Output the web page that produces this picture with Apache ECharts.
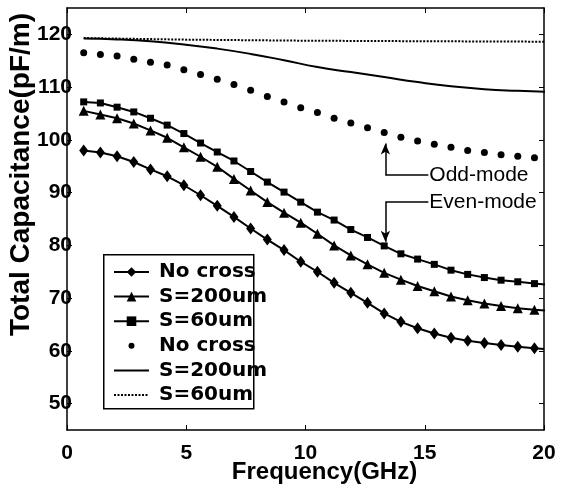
<!DOCTYPE html>
<html>
<head>
<meta charset="utf-8">
<title>Total Capacitance vs Frequency</title>
<script src="https://cdn.jsdelivr.net/npm/echarts@6/dist/echarts.min.js"></script>
<style>
  html, body { margin: 0; padding: 0; background: #fff; }
  #chart { width: 564px; height: 484px; }
</style>
</head>
<body>
<div id="chart"></div>
<script>
// sample frequencies (GHz) of the marked curves
const freqs = [0.7, 1.4, 2.1, 2.8, 3.5, 4.2, 4.9, 5.6, 6.3, 7.0, 7.7, 8.4, 9.1, 9.8,
  10.5, 11.2, 11.9, 12.6, 13.3, 14.0, 14.7, 15.4, 16.1, 16.8, 17.5, 18.2, 18.9, 19.6];

// even-mode, pF/m
const evenNoCross = [98.0, 97.6, 96.9, 95.8, 94.4, 93.1, 91.4, 89.5, 87.5, 85.4, 83.2, 81.1, 79.1, 76.9,
  75.0, 72.9, 71.0, 69.1, 67.1, 65.5, 64.3, 63.3, 62.5, 61.9, 61.5, 61.1, 60.8, 60.5];
const evenS200 = [105.5, 104.8, 104.1, 103.1, 101.8, 100.4, 98.6, 96.8, 94.9, 92.6, 90.4, 88.2, 86.2, 84.3,
  82.2, 80.0, 78.1, 76.4, 74.8, 73.5, 72.3, 71.3, 70.3, 69.6, 69.0, 68.5, 68.1, 67.8];
const evenS60 = [107.2, 107.0, 106.2, 105.3, 104.1, 102.8, 101.2, 99.4, 97.7, 96.0, 94.0, 92.0, 90.1, 88.2,
  86.3, 84.8, 83.0, 81.5, 79.9, 78.4, 77.4, 76.4, 75.3, 74.5, 73.9, 73.4, 73.1, 72.75];

// odd-mode, pF/m
const oddNoCross = [116.5, 116.2, 115.9, 115.3, 114.7, 114.2, 113.3, 112.4, 111.5, 110.5, 109.4, 108.2, 107.2, 106.1,
  105.2, 104.1, 103.2, 102.3, 101.4, 100.5, 99.8, 99.15, 98.6, 98.0, 97.6, 97.2, 96.9, 96.6];
const oddS200Freqs = [0.7, 2.1, 3.5, 4.9, 6.3, 7.7, 9.1, 10.5, 11.9, 13.3, 14.7, 16.1, 17.5, 18.9, 20.75];
const oddS200 = [119.2, 119.05, 118.7, 118.1, 117.3, 116.3, 115.1, 113.8, 112.85, 111.9, 110.95, 110.15, 109.6, 109.3, 109.0];
const oddS60Freqs = [0.7, 5.0, 10.0, 15.0, 20.75];
const oddS60 = [119.3, 119.0, 118.8, 118.7, 118.6];

// the even-mode lines run on a little past the frame
const evenTailFreqs = [20.0, 20.75, 20.75];
const evenTailValues = [60.35, 67.4, 72.3];

const seriesNames = ["evenNoCross", "evenS200", "evenS60", "oddNoCross", "oddS200", "oddS60"];
const legendLabels = ["No cross", "S=200um", "S=60um", "No cross", "S=200um", "S=60um"];

const xTicks = [0, 5, 10, 15, 20];
const yTicks = [50, 60, 70, 80, 90, 100, 110, 120];

// arrows: [x, elbow y, tip y, label end x]
const annoLabels = ["Odd-mode", "Even-mode"];
const annoArrows = [
  [13.35, 93.3, 99.3, 15.15],
  [13.35, 88.2, 80.7, 15.15],
];

const FONT = "'Liberation Sans', Arial, sans-serif";
// small dot for the legend; the bare moves only widen the box it is fitted into
const DOT_ICON = "path://M0,0M12,12M9,6A3,3,0,1,1,3,6A3,3,0,1,1,9,6Z";

function pairs(xs, ys) {
  return xs.map((x, i) => [x, ys[i]]);
}

function withTail(xs, ys, k) {
  return pairs(xs, ys).concat([{ value: [evenTailFreqs[k], evenTailValues[k]], symbol: "none" }]);
}

function markerLine(name, data, symbol, size) {
  return {
    name,
    type: "line",
    data,
    symbol,
    symbolSize: size,
    clip: false,
    itemStyle: { color: "#000" },
    lineStyle: { color: "#000", width: 2 },
    z: 3,
  };
}

function annotationLines() {
  const data = [];
  annoArrows.forEach((a, i) => {
    data.push([
      { coord: [a[0], a[1]], symbol: "none" },
      { coord: [a[0], a[2]], symbol: "arrow" },
    ]);
    data.push([
      {
        coord: [a[0], a[1]],
        symbol: "none",
        label: {
          show: true,
          position: "end",
          distance: 1,
          formatter: annoLabels[i],
          color: "#000",
          fontFamily: FONT,
          fontSize: 21,
        },
      },
      { coord: [a[3], a[1]], symbol: "none" },
    ]);
  });
  return data;
}

function legendItems() {
  return seriesNames.map((name, i) => {
    if (i === 3) return { name, icon: DOT_ICON };
    if (i > 3) return { name, itemStyle: { opacity: 0 } };
    return { name };
  });
}

const chart = echarts.init(document.getElementById("chart"), null, { renderer: "canvas" });

const axisCommon = {
  axisLine: { onZero: false, lineStyle: { color: "#000", width: 1.5 } },
  axisTick: { inside: true, length: 5, lineStyle: { color: "#000", width: 1 } },
  splitLine: { show: false },
};

chart.setOption({
  animation: false,
  backgroundColor: "#fff",
  grid: { left: 67, right: 20, top: 8, bottom: 54, containLabel: false, outerBoundsMode: "none" },
  xAxis: [
    {
      ...axisCommon,
      type: "value",
      min: 0,
      max: 20,
      interval: 5,
      axisLabel: {
        color: "#000",
        fontFamily: FONT,
        fontWeight: "bold",
        fontSize: 21,
        margin: 13,
        customValues: xTicks,
      },
      name: "Frequency(GHz)",
      nameLocation: "middle",
      nameMoveOverlap: false,
      nameGap: 30,
      nameTextStyle: {
        color: "#000",
        fontFamily: FONT,
        fontWeight: "bold",
        fontSize: 24,
        padding: [0, 0, 0, 38],
      },
    },
    {
      ...axisCommon,
      type: "value",
      position: "top",
      min: 0,
      max: 20,
      interval: 5,
      axisLabel: { show: false },
    },
  ],
  yAxis: [
    {
      ...axisCommon,
      type: "value",
      min: 45,
      max: 125,
      axisTick: { ...axisCommon.axisTick, customValues: yTicks },
      axisLabel: {
        color: "#000",
        fontFamily: FONT,
        fontWeight: "bold",
        fontSize: 21,
        margin: -5,
        customValues: yTicks,
      },
      name: "Total Capacitance(pF/m)",
      nameLocation: "middle",
      nameMoveOverlap: false,
      nameRotate: 90,
      nameGap: 32,
      nameTextStyle: {
        color: "#000",
        fontFamily: FONT,
        fontWeight: "bold",
        fontSize: 28,
        padding: [0, 0, 0, 89],
      },
    },
    {
      ...axisCommon,
      type: "value",
      position: "right",
      min: 45,
      max: 125,
      axisTick: { ...axisCommon.axisTick, customValues: yTicks },
      axisLabel: { show: false },
    },
  ],
  legend: {
    data: legendItems(),
    orient: "vertical",
    left: 108,
    top: 257,
    itemWidth: 35,
    itemHeight: 12,
    itemGap: 4.6,
    formatter: (name) => legendLabels[seriesNames.indexOf(name)],
    textStyle: {
      color: "#000",
      fontFamily: "'DejaVu Sans', sans-serif",
      fontWeight: "bold",
      fontSize: 20,
      padding: [0, 0, 0, 5],
    },
    z: 5,
  },
  graphic: [
    {
      type: "rect",
      left: 103,
      top: 254,
      z: 4,
      shape: { width: 150, height: 154 },
      style: { fill: "#fff", stroke: "#000", lineWidth: 1.5 },
    },
  ],
  series: [
    markerLine(seriesNames[0], withTail(freqs, evenNoCross, 0), "diamond", [9, 12]),
    markerLine(seriesNames[1], withTail(freqs, evenS200, 1), "triangle", 10),
    markerLine(seriesNames[2], withTail(freqs, evenS60, 2), "rect", 7),
    {
      name: seriesNames[3],
      type: "scatter",
      data: pairs(freqs, oddNoCross),
      symbol: "circle",
      symbolSize: 7,
      itemStyle: { color: "#000", opacity: 1 },
      z: 3,
    },
    {
      name: seriesNames[4],
      type: "line",
      data: pairs(oddS200Freqs, oddS200),
      smooth: true,
      symbol: "none",
      clip: false,
      itemStyle: { color: "#000" },
      lineStyle: { color: "#000", width: 2 },
      z: 3,
      markLine: {
        silent: true,
        animation: false,
        symbolSize: [7, 11],
        lineStyle: { color: "#000", width: 1.5, type: "solid" },
        label: { show: false },
        emphasis: { disabled: true },
        data: annotationLines(),
      },
    },
    {
      name: seriesNames[5],
      type: "line",
      data: pairs(oddS60Freqs, oddS60),
      symbol: "none",
      clip: false,
      itemStyle: { color: "#000" },
      lineStyle: { color: "#000", width: 2, type: [2, 1.5] },
      z: 3,
    },
  ],
});
</script>
</body>
</html>
